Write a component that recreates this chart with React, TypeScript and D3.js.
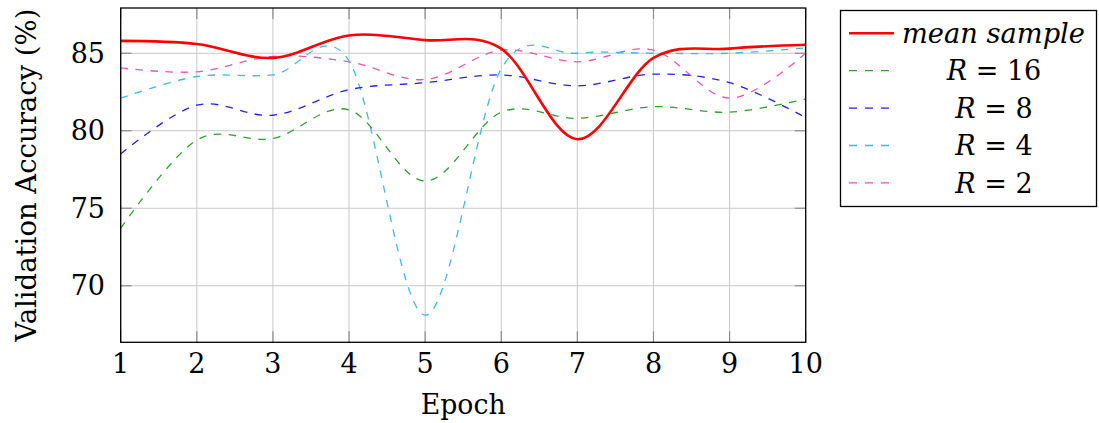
import { useEffect, useRef } from "react";
import * as d3 from "d3";

const epochs = [1, 2, 3, 4, 5, 6, 7, 8, 9, 10];
const meanSample = [85.8, 85.6, 84.7, 86.15, 85.85, 85.3, 79.45, 84.7, 85.3, 85.55];
const r16 = [73.7, 79.4, 79.5, 81.35, 76.75, 81.2, 80.8, 81.55, 81.2, 82.05];
const r8 = [78.5, 81.65, 81.0, 82.65, 83.1, 83.6, 82.9, 83.65, 83.1, 80.85];
const r4 = [82.1, 83.5, 83.6, 84.5, 68.1, 84.0, 85.0, 85.0, 85.0, 85.35];
const r2 = [84.05, 83.8, 84.8, 84.45, 83.3, 85.2, 84.45, 85.2, 82.1, 85.0];
const yTicks = [70, 75, 80, 85];

const series = [
  { name: "mean sample", values: meanSample, color: "#ff0000", dashed: false },
  { name: "16", values: r16, color: "#2ca02c", dashed: true },
  { name: "8", values: r8, color: "#1f1fff", dashed: true },
  { name: "4", values: r4, color: "#3cb8f0", dashed: true },
  { name: "2", values: r2, color: "#f050b4", dashed: true },
];

const FONT = "DejaVu Serif";

const App = () => {
  const ref = useRef<SVGSVGElement | null>(null);

  useEffect(() => {
    if (!ref.current) return;
    const width = 1099;
    const height = 423;
    const margin = { top: 8, left: 120.7, right: 293.3, bottom: 80.7 };

    const svg = d3.select(ref.current);
    svg.selectAll("*").remove();

    const x = d3
      .scaleLinear()
      .domain([1, 10])
      .range([margin.left, width - margin.right]);
    const y = d3
      .scaleLinear()
      .domain([66.35, 87.92])
      .range([height - margin.bottom, margin.top]);

    const [x0, x1] = x.range();
    const [y0, y1] = y.range();

    // grid
    const grid = svg.append("g").attr("stroke", "#c8c8c8").attr("stroke-width", 1);
    epochs.forEach((e) => {
      grid.append("line").attr("x1", x(e)).attr("x2", x(e)).attr("y1", y1).attr("y2", y0);
    });
    yTicks.forEach((t) => {
      grid.append("line").attr("x1", x0).attr("x2", x1).attr("y1", y(t)).attr("y2", y(t));
    });

    // inner tick marks
    const ticks = svg.append("g").attr("stroke", "#8c8c8c").attr("stroke-width", 1.2);
    epochs.forEach((e) => {
      ticks.append("line").attr("x1", x(e)).attr("x2", x(e)).attr("y1", y0).attr("y2", y0 - 11);
      ticks.append("line").attr("x1", x(e)).attr("x2", x(e)).attr("y1", y1).attr("y2", y1 + 11);
    });
    yTicks.forEach((t) => {
      ticks.append("line").attr("x1", x0).attr("x2", x0 + 11).attr("y1", y(t)).attr("y2", y(t));
      ticks.append("line").attr("x1", x1).attr("x2", x1 - 11).attr("y1", y(t)).attr("y2", y(t));
    });

    const line = d3
      .line<number>()
      .x((_, i) => x(epochs[i]))
      .y((d) => y(d))
      .curve(d3.curveCardinal.tension(0));

    svg
      .append("clipPath")
      .attr("id", "plotclip")
      .append("rect")
      .attr("x", x0)
      .attr("y", y1)
      .attr("width", x1 - x0)
      .attr("height", y0 - y1);

    const plot = svg.append("g").attr("clip-path", "url(#plotclip)");
    [...series].reverse().forEach((s) => {
      plot
        .append("path")
        .attr("d", line(s.values))
        .attr("fill", "none")
        .attr("stroke", s.color)
        .attr("stroke-width", s.dashed ? 1.3 : 2.6)
        .attr("stroke-dasharray", s.dashed ? "7.5 7.5" : null);
    });

    // frame
    svg
      .append("rect")
      .attr("x", x0)
      .attr("y", y1)
      .attr("width", x1 - x0)
      .attr("height", y0 - y1)
      .attr("fill", "none")
      .attr("stroke", "#000")
      .attr("stroke-width", 1.3);

    // tick labels
    epochs.forEach((e) => {
      svg
        .append("text")
        .attr("x", x(e))
        .attr("y", 373)
        .attr("text-anchor", "middle")
        .attr("font-family", FONT)
        .attr("font-size", 27)
        .text(e);
    });
    yTicks.forEach((t) => {
      svg
        .append("text")
        .attr("x", 105)
        .attr("y", y(t))
        .attr("dy", "0.36em")
        .attr("text-anchor", "end")
        .attr("font-family", FONT)
        .attr("font-size", 27)
        .text(t);
    });

    svg
      .append("text")
      .attr("x", (x0 + x1) / 2)
      .attr("y", 414)
      .attr("text-anchor", "middle")
      .attr("font-family", FONT)
      .attr("font-size", 27)
      .attr("textLength", 85)
      .attr("lengthAdjust", "spacingAndGlyphs")
      .text("Epoch");

    svg
      .append("text")
      .attr("transform", `translate(36,${(y0 + y1) / 2}) rotate(-90)`)
      .attr("text-anchor", "middle")
      .attr("font-family", FONT)
      .attr("font-size", 27)
      .attr("textLength", 333)
      .attr("lengthAdjust", "spacingAndGlyphs")
      .text("Validation Accuracy (%)");

    // legend
    const lg = svg.append("g");
    lg.append("rect")
      .attr("x", 840.5)
      .attr("y", 10.5)
      .attr("width", 256)
      .attr("height", 196)
      .attr("fill", "#fff")
      .attr("stroke", "#000")
      .attr("stroke-width", 1.3);

    series.forEach((s, i) => {
      const cy = 33.3 + i * 37.4;
      lg.append("line")
        .attr("x1", 849)
        .attr("x2", s.dashed ? 889 : 894)
        .attr("y1", cy)
        .attr("y2", cy)
        .attr("stroke", s.color)
        .attr("stroke-width", s.dashed ? 1.3 : 2.6)
        .attr("stroke-dasharray", s.dashed ? "8 8" : null);
      const t = lg
        .append("text")
        .attr("y", cy)
        .attr("dy", "0.36em")
        .attr("font-family", FONT)
        .attr("font-size", 27);
      if (!s.dashed) {
        t.attr("x", 902)
          .attr("font-style", "italic")
          .attr("textLength", 183)
          .attr("lengthAdjust", "spacingAndGlyphs")
          .text(s.name);
      } else {
        t.attr("x", 994).attr("text-anchor", "middle");
        t.append("tspan").attr("font-style", "italic").text("R");
        t.append("tspan").text(` = ${s.name}`);
      }
    });
  }, []);

  return (
    <svg
      ref={ref}
      width={1099}
      height={423}
      style={{ position: "absolute", left: 0, top: 0, background: "#fff" }}
    />
  );
};

export default App;
